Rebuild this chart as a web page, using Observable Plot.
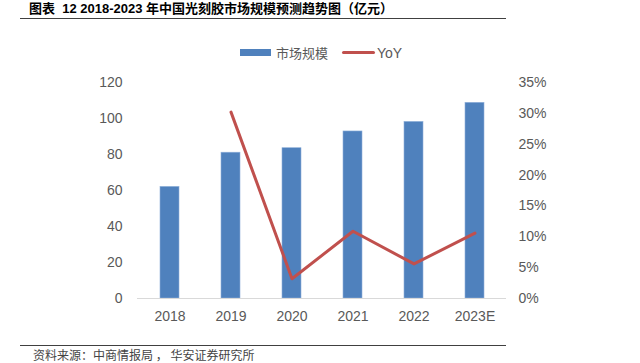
<!DOCTYPE html>
<html>
<head>
<meta charset="utf-8">
<script src="https://cdn.jsdelivr.net/npm/d3@7"></script>
<script src="https://cdn.jsdelivr.net/npm/@observablehq/plot@0.6"></script>
<style>
  html, body { margin: 0; padding: 0; background: #fff; }
  #wrap { position: relative; width: 640px; height: 363px; overflow: hidden; font-family: "Liberation Sans", Arial, "Noto Sans CJK SC", sans-serif; }
  #chart { position: absolute; left: 0; top: 0; }
  .title { position: absolute; left: 29px; top: -2px; font-size: 13px; font-weight: bold; color: #000; white-space: nowrap; font-family: "Liberation Sans", Arial, "Noto Sans CJK SC", sans-serif; }
  .rule { position: absolute; left: 20px; width: 486px; height: 1px; background: #404040; }
  .legend { position: absolute; top: 43px; left: 240px; font-size: 13px; color: #595959; display: flex; align-items: center; white-space: nowrap; font-family: "Noto Sans CJK SC", "Liberation Sans", sans-serif; }
  .sw-bar { display: inline-block; width: 31px; height: 7px; background: #4F81BD; margin-right: 5px; }
  .sw-line { display: inline-block; width: 33px; height: 3px; background: #C0504D; border-radius: 2px; margin-left: 14px; margin-right: 2px; }
  .source { position: absolute; left: 33px; top: 347px; font-size: 12px; line-height: 15px; color: #444; white-space: nowrap; font-family: "Noto Sans CJK SC", sans-serif; }
</style>
</head>
<body>
<div id="wrap">
  <div class="title">图表&nbsp; 12 2018-2023 年中国光刻胶市场规模预测趋势图（亿元）</div>
  <div class="rule" style="top:18px"></div>
  <div class="legend"><span class="sw-bar"></span><span>市场规模</span><span class="sw-line"></span><span style="font-family:'Liberation Sans',Arial,sans-serif;font-size:14px">YoY</span></div>
  <div id="chart"></div>
  <div class="rule" style="top:345px"></div>
  <div class="source">资料来源：中商情报局 ， 华安证券研究所</div>
</div>
<script>
const years = ["2018", "2019", "2020", "2021", "2022", "2023E"];
const marketSize = [62, 81, 83.5, 92.8, 98.1, 108.7];
const yoyYears = ["2019", "2020", "2021", "2022", "2023E"];
const yoy = [30.2, 3.2, 10.9, 5.6, 10.6];
const leftTicks = [0, 20, 40, 60, 80, 100, 120];
const rightTicks = [0, 5, 10, 15, 20, 25, 30, 35];

const LEFT_MAX = 120, RIGHT_MAX = 35;
const toLeft = v => v * LEFT_MAX / RIGHT_MAX;

const bars = years.map((y, i) => ({year: y, value: marketSize[i]}));
const line = yoyYears.map((y, i) => ({year: y, v: toLeft(yoy[i])}));

const chart = Plot.plot({
  width: 640,
  height: 363,
  marginLeft: 137,
  marginRight: 134,
  marginTop: 82,
  marginBottom: 65,
  style: {fontFamily: "'Liberation Sans', Arial, sans-serif", fontSize: "14px", color: "#595959", background: "transparent"},
  x: {domain: years, type: "band", paddingInner: 0.69, paddingOuter: 0.345, label: null},
  y: {domain: [0, LEFT_MAX], label: null},
  marks: [
    Plot.barY(bars, {x: "year", y: "value", fill: "#4F81BD", stroke: "#8FB0DA", strokeWidth: 0.6}),
    Plot.ruleY([0], {stroke: "#D9D9D9", strokeWidth: 1.2}),
    Plot.line(line, {x: "year", y: "v", stroke: "#C0504D", strokeWidth: 3, strokeLinecap: "round", strokeLinejoin: "round"}),
    Plot.axisX({tickSize: 0, tickPadding: 13, label: null, fill: "#595959"}),
    Plot.axisY(leftTicks, {anchor: "left", tickSize: 0, tickPadding: 15, label: null, fill: "#595959"}),
    Plot.axisY(rightTicks.map(toLeft), {anchor: "right", tickSize: 0, tickPadding: 12, label: null, fill: "#595959",
      tickFormat: v => Math.round(v * RIGHT_MAX / LEFT_MAX) + "%"})
  ]
});
document.getElementById("chart").appendChild(chart);
</script>
</body>
</html>
